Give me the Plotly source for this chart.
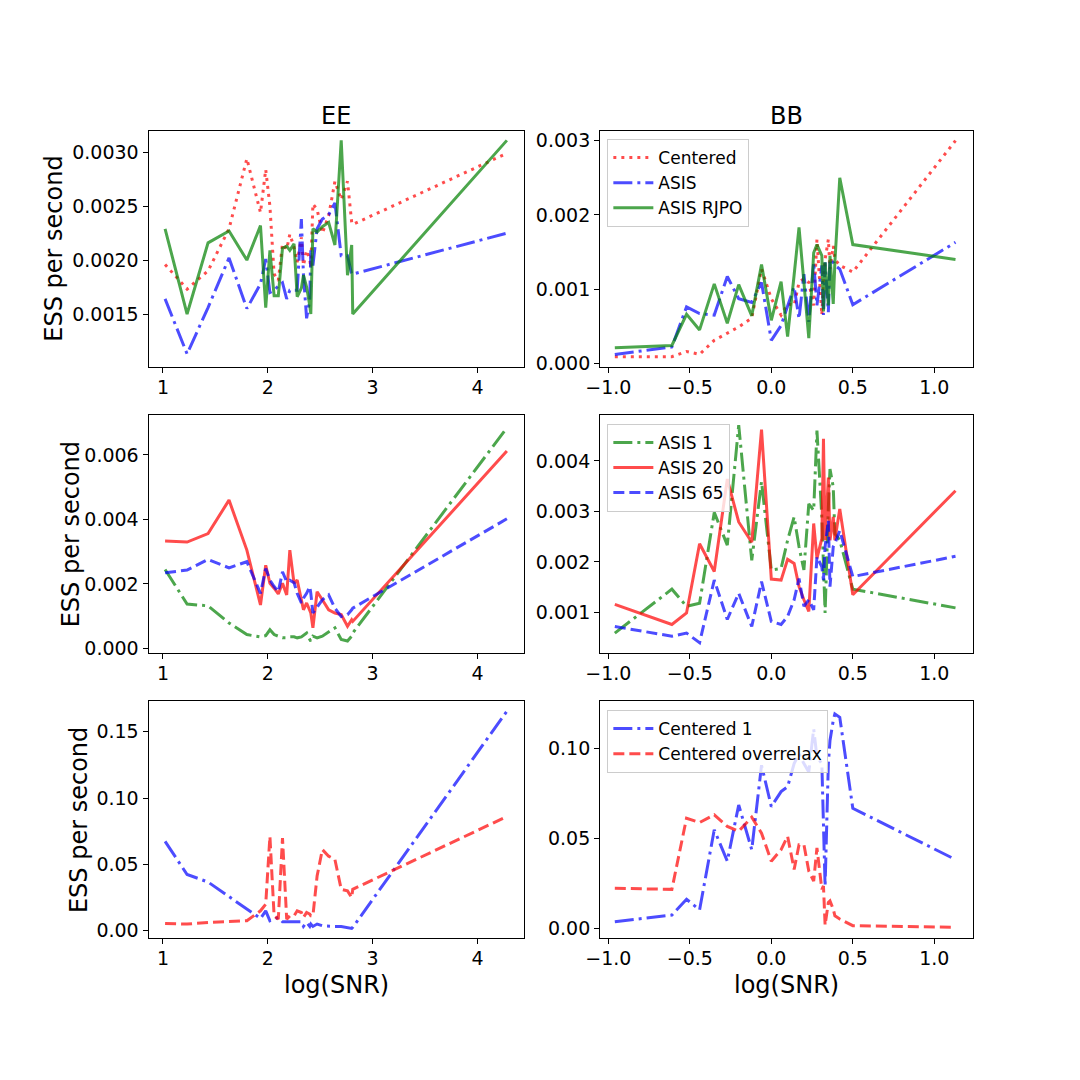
import plotly.graph_objects as go
from plotly.subplots import make_subplots

# ---------------- data ----------------
ee_x = [1.02, 1.23, 1.43, 1.63, 1.80, 1.93, 1.98, 2.02, 2.06, 2.10, 2.14, 2.18, 2.21, 2.25, 2.28,
        2.32, 2.34, 2.37, 2.40, 2.41, 2.43, 2.47, 2.52, 2.58, 2.64, 2.70, 2.76, 2.80, 2.81, 4.28]
bb_x = [-0.96, -0.61, -0.52, -0.44, -0.35, -0.27, -0.20, -0.12, -0.06, 0.00, 0.06, 0.10, 0.14, 0.17,
        0.20, 0.23, 0.26, 0.28, 0.31, 0.32, 0.33, 0.35, 0.36, 0.38, 0.39, 0.42, 0.50, 1.13]

# Row 1 - EE
ee_centered = [0.00196, 0.00173, 0.00190, 0.00229, 0.00294, 0.00244, 0.00284, 0.00250, 0.00187, 0.00181,
               0.00215, 0.00210, 0.00224, 0.00212, 0.00198, 0.00221, 0.00195, 0.00209, 0.00201, 0.00193,
               0.00252, 0.00247, 0.00225, 0.00241, 0.00273, 0.00256, 0.00273, 0.00235, 0.00233, 0.00299]
ee_asis = [0.00164, 0.00113, 0.00156, 0.00202, 0.00155, 0.00178, 0.00201, 0.00170, 0.00172, 0.00176,
           0.00179, 0.00164, 0.00172, 0.00172, 0.00172, 0.00238, 0.00186, 0.00146, 0.00163, 0.00209,
           0.00195, 0.00229, 0.00238, 0.00242, 0.00253, 0.00204, 0.00204, 0.00187, 0.00187, 0.00225]
ee_rjpo = [0.00229, 0.00150, 0.00216, 0.00227, 0.00200, 0.00232, 0.00156, 0.00209, 0.00167, 0.00167,
           0.00211, 0.00213, 0.00209, 0.00215, 0.00166, 0.00174, 0.00186, 0.00175, 0.00158, 0.00150,
           0.00229, 0.00226, 0.00231, 0.00235, 0.00214, 0.00311, 0.00186, 0.00214, 0.00150, 0.00311]

# Row 1 - BB
bb_centered = [0.00009, 0.00009, 0.00016, 0.00012, 0.00031, 0.00040, 0.00049, 0.00061, 0.00127, 0.00087,
               0.00065, 0.00080, 0.00078, 0.00109, 0.00114, 0.00109, 0.00078, 0.00167, 0.00065, 0.00114,
               0.00140, 0.00167, 0.00127, 0.00158, 0.00140, 0.00132, 0.00123, 0.00300]
bb_asis = [0.00012, 0.00022, 0.00076, 0.00067, 0.00065, 0.00117, 0.00087, 0.00082, 0.00109, 0.00031,
           0.00051, 0.00078, 0.00103, 0.00060, 0.00120, 0.00056, 0.00136, 0.00078, 0.00132, 0.00065,
           0.00136, 0.00069, 0.00140, 0.00136, 0.00132, 0.00127, 0.00079, 0.00163]
bb_rjpo = [0.00021, 0.00024, 0.00066, 0.00045, 0.00107, 0.00054, 0.00106, 0.00064, 0.00133, 0.00058,
           0.00110, 0.00036, 0.00119, 0.00183, 0.00109, 0.00034, 0.00149, 0.00160, 0.00145, 0.00070,
           0.00136, 0.00078, 0.00145, 0.00080, 0.00136, 0.00250, 0.00160, 0.00140]

# Row 2 - EE
ee_asis1 = [0.00245, 0.00138, 0.00132, 0.00079, 0.00043, 0.00036, 0.00040, 0.00058, 0.00043, 0.00038,
            0.00033, 0.00033, 0.00036, 0.00036, 0.00033, 0.00036, 0.00040, 0.00048, 0.00028, 0.00023,
            0.00038, 0.00033, 0.00038, 0.00050, 0.00064, 0.00028, 0.00023, 0.00038, 0.00048, 0.00684]
ee_asis20 = [0.00333, 0.00330, 0.00356, 0.00460, 0.00305, 0.00135, 0.00258, 0.00202, 0.00187, 0.00169,
             0.00202, 0.00166, 0.00305, 0.00202, 0.00212, 0.00151, 0.00120, 0.00141, 0.00115, 0.00110,
             0.00064, 0.00176, 0.00151, 0.00120, 0.00110, 0.00105, 0.00069, 0.00089, 0.00084, 0.00612]
ee_asis65 = [0.00235, 0.00243, 0.00276, 0.00250, 0.00269, 0.00171, 0.00248, 0.00212, 0.00192, 0.00176,
             0.00238, 0.00207, 0.00212, 0.00204, 0.00171, 0.00141, 0.00156, 0.00171, 0.00192, 0.00171,
             0.00110, 0.00130, 0.00151, 0.00166, 0.00125, 0.00099, 0.00105, 0.00120, 0.00125, 0.00402]

# Row 2 - BB
bb_asis1 = [0.00059, 0.00146, 0.00112, 0.00118, 0.00298, 0.00233, 0.00471, 0.00203, 0.00359, 0.00184,
            0.00187, 0.00243, 0.00289, 0.00230, 0.00184, 0.00315, 0.00302, 0.00460, 0.00289, 0.00177,
            0.00099, 0.00308, 0.00384, 0.00348, 0.00256, 0.00243, 0.00146, 0.00109]
bb_asis20 = [0.00116, 0.00076, 0.00099, 0.00236, 0.00181, 0.00364, 0.00279, 0.00239, 0.00462, 0.00166,
             0.00164, 0.00205, 0.00197, 0.00151, 0.00125, 0.00102, 0.00276, 0.00207, 0.00246, 0.00444,
             0.00243, 0.00367, 0.00243, 0.00289, 0.00243, 0.00305, 0.00135, 0.00341]
bb_asis65 = [0.00072, 0.00053, 0.00059, 0.00040, 0.00164, 0.00086, 0.00138, 0.00072, 0.00161, 0.00082,
             0.00076, 0.00092, 0.00125, 0.00167, 0.00112, 0.00125, 0.00105, 0.00210, 0.00190, 0.00164,
             0.00230, 0.00282, 0.00151, 0.00230, 0.00236, 0.00262, 0.00171, 0.00211]

# Row 3 - EE
ee_cent1 = [0.0674, 0.0424, 0.0367, 0.0257, 0.0167, 0.0092, 0.0150, 0.0075, 0.0087, 0.0100,
            0.0067, 0.0067, 0.0067, 0.0067, 0.0062, 0.0067, 0.0032, 0.0062, 0.0032, 0.0050,
            0.0032, 0.0050, 0.0037, 0.0032, 0.0032, 0.0032, 0.0022, 0.0017, 0.0025, 0.1655]
ee_overrelax = [0.0055, 0.0050, 0.0062, 0.0070, 0.0075, 0.0150, 0.0200, 0.0711, 0.0112, 0.0087,
                0.0699, 0.0087, 0.0112, 0.0112, 0.0150, 0.0137, 0.0100, 0.0137, 0.0125, 0.0112,
                0.0112, 0.0412, 0.0612, 0.0562, 0.0537, 0.0312, 0.0300, 0.0250, 0.0312, 0.0861]

# Row 3 - BB
bb_cent1 = [0.0037, 0.0074, 0.0162, 0.0103, 0.0549, 0.0374, 0.0687, 0.0438, 0.0908, 0.0678,
            0.0761, 0.0788, 0.0917, 0.0972, 0.0917, 0.0871, 0.1110, 0.0954, 0.0917, 0.0586,
            0.0236, 0.0917, 0.1046, 0.1157, 0.1193, 0.1175, 0.0668, 0.0383]
bb_overrelax = [0.0223, 0.0217, 0.0613, 0.0589, 0.0632, 0.0567, 0.0540, 0.0619, 0.0530, 0.0374,
                0.0438, 0.0512, 0.0328, 0.0466, 0.0466, 0.0319, 0.0263, 0.0448, 0.0217, 0.0236,
                0.0018, 0.0144, 0.0153, 0.0107, 0.0070, 0.0052, 0.0015, 0.0006]

ee_xticks = [1, 2, 3, 4]
bb_xticks = [-1.0, -0.5, 0.0, 0.5, 1.0]

# ---------------- styles ----------------
RED = "rgba(255,0,0,0.7)"
BLUE = "rgba(0,0,255,0.7)"
GREEN = "rgba(0,128,0,0.7)"
LW = 3
DOT = "3px,5px"
DASH = "11px,5px"
DASHDOT = "19px,5px,3px,5px"
FONT = "DejaVu Sans"

fig = make_subplots(rows=3, cols=2)


def add(x, y, row, col, name, color, dash, legend=None, show=False):
    fig.add_trace(go.Scatter(x=x, y=y, mode="lines", name=name,
                             line=dict(color=color, width=LW, dash=dash),
                             showlegend=show, legend=legend), row=row, col=col)


add(ee_x, ee_centered, 1, 1, "Centered", RED, DOT)
add(ee_x, ee_asis, 1, 1, "ASIS", BLUE, DASHDOT)
add(ee_x, ee_rjpo, 1, 1, "ASIS RJPO", GREEN, "solid")
add(bb_x, bb_centered, 1, 2, "Centered", RED, DOT, "legend", True)
add(bb_x, bb_asis, 1, 2, "ASIS", BLUE, DASHDOT, "legend", True)
add(bb_x, bb_rjpo, 1, 2, "ASIS RJPO", GREEN, "solid", "legend", True)

add(ee_x, ee_asis1, 2, 1, "ASIS 1", GREEN, DASHDOT)
add(ee_x, ee_asis20, 2, 1, "ASIS 20", RED, "solid")
add(ee_x, ee_asis65, 2, 1, "ASIS 65", BLUE, DASH)
add(bb_x, bb_asis1, 2, 2, "ASIS 1", GREEN, DASHDOT, "legend2", True)
add(bb_x, bb_asis20, 2, 2, "ASIS 20", RED, "solid", "legend2", True)
add(bb_x, bb_asis65, 2, 2, "ASIS 65", BLUE, DASH, "legend2", True)

add(ee_x, ee_cent1, 3, 1, "Centered 1", BLUE, DASHDOT)
add(ee_x, ee_overrelax, 3, 1, "Centered overrelax", RED, DASH)
add(bb_x, bb_cent1, 3, 2, "Centered 1", BLUE, DASHDOT, "legend3", True)
add(bb_x, bb_overrelax, 3, 2, "Centered overrelax", RED, DASH, "legend3", True)

# page body has an 8px margin: the figure is placed at (8, 8) in the window
OFF = 8
W = H = 1080 - 2 * OFF


def px(p):
    return (p - OFF) / W


def py(p):
    return 1 - (p - OFF) / H


xdom_left = [px(135.3), px(515.7)]
xdom_right = [px(593.3), px(971.7)]
ydoms = [[py(369), py(130.7)], [py(657), py(417.3)], [py(944.3), py(705.7)]]

axis_common = dict(showline=True, mirror=True, linecolor="black", linewidth=1,
                   ticks="outside", ticklen=5, tickcolor="black", tickwidth=1,
                   showgrid=False, zeroline=False,
                   tickfont=dict(family=FONT, size=19, color="black"))

yranges = [[0.001006, 0.003199], [-0.0000535, 0.003133],
           [-0.000144, 0.007232], [0.000194, 0.004904],
           [-0.00571, 0.1729], [-0.00551, 0.1263]]
yticks = [[0.0015, 0.0020, 0.0025, 0.0030], [0.000, 0.001, 0.002, 0.003],
          [0.000, 0.002, 0.004, 0.006], [0.001, 0.002, 0.003, 0.004],
          [0.00, 0.05, 0.10, 0.15], [0.00, 0.05, 0.10]]
yfmt = [".4f", ".3f", ".3f", ".3f", ".2f", ".2f"]

for i in range(6):
    r, c = i // 2 + 1, i % 2 + 1
    if c == 1:
        fig.update_xaxes(domain=xdom_left, range=[0.862, 4.439], tickvals=ee_xticks,
                         tickformat="d", ticklabelstandoff=-2, row=r, col=c, **axis_common)
    else:
        fig.update_xaxes(domain=xdom_right, range=[-1.0506, 1.238], tickvals=bb_xticks,
                         tickformat=".1f", ticklabelstandoff=-2, row=r, col=c, **axis_common)
    fig.update_yaxes(domain=ydoms[r - 1], range=yranges[i], tickvals=yticks[i],
                     tickformat=yfmt[i], row=r, col=c, **axis_common)

legend_common = dict(font=dict(family=FONT, size=17, color="black"),
                     bgcolor="rgba(255,255,255,0.8)", bordercolor="#cccccc", borderwidth=1,
                     xanchor="left", yanchor="top", x=px(600.7), itemwidth=40)

fig.update_layout(
    width=W, height=H, autosize=False,
    margin=dict(l=0, r=0, t=0, b=0),
    paper_bgcolor="white", plot_bgcolor="white",
    font=dict(family=FONT, size=18, color="black"),
    legend=dict(y=py(139), **legend_common),
    legend2=dict(y=py(426), **legend_common),
    legend3=dict(y=py(714.3), **legend_common),
)

ann = [
    dict(text="EE", x=px(325.5), y=py(116)),
    dict(text="BB", x=px(782.5), y=py(116)),
    dict(text="log(SNR)", x=px(325.5), y=py(991)),
    dict(text="log(SNR)", x=px(782.5), y=py(991)),
    dict(text="ESS per second", x=px(40), y=py(250), textangle=-90),
    dict(text="ESS per second", x=px(57), y=py(537), textangle=-90),
    dict(text="ESS per second", x=px(65), y=py(825), textangle=-90),
]
for a in ann:
    fig.add_annotation(xref="paper", yref="paper", showarrow=False,
                       xanchor="center", yanchor="middle",
                       font=dict(family=FONT, size=24, color="black"), **a)

fig.write_html("out.html")
